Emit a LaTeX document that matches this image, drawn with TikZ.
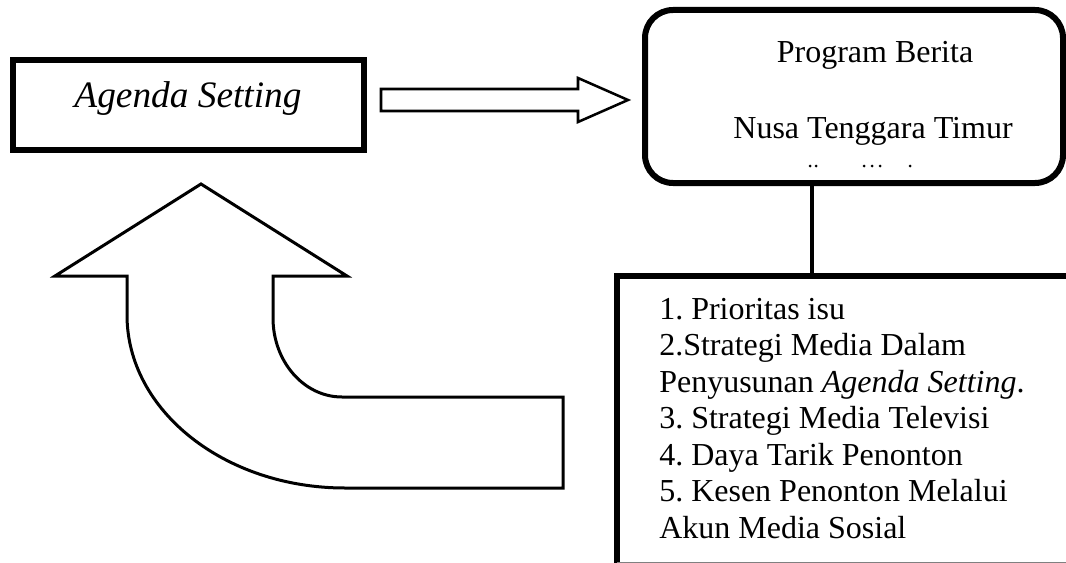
\documentclass[tikz,border=0pt]{standalone}
\usepackage{fontspec}
\setmainfont{Liberation Serif}
\frenchspacing
\begin{document}
\begin{tikzpicture}[x=0.75pt, y=-0.75pt,
    thickbox/.style={draw, line width=4.5pt, inner sep=0pt},
    blockarrow/.style={draw, line width=2.25pt, line join=miter, fill=white},
    boxtext/.style={font=\fontsize{24}{28}\selectfont, inner sep=0pt},
    listtext/.style={font=\fontsize{24}{28}\selectfont, inner sep=0pt, anchor=base west}]

  % Canvas
  \useasboundingbox (0,0) rectangle (1066,563);
  \fill[white] (0,0) rectangle (1066,563);
  \clip (0,0) rectangle (1066,563);

  % Agenda Setting box
  \node[thickbox, minimum width=263.25pt, minimum height=67.5pt] (agenda) at (188.5,105) {};
  \node[boxtext, anchor=base, font=\fontsize{28}{32}\selectfont\itshape] (agendatext) at (188,108) {Agenda Setting};

  % Rounded news program box
  \node[thickbox, rounded corners=21pt, minimum width=313.5pt, minimum height=129.75pt] (berita) at (854,96.5) {};
  \node[boxtext, anchor=base] (berita1) at (875,63) {Program Berita};
  \node[boxtext, anchor=base] (berita2) at (873,138) {Nusa Tenggara Timur};
  % Clipped third line
  \foreach \dx in {810,816,864,872,880,910}
    \fill (\dx,166) circle (1.5);

  % List box
  \node[minimum width=361.9pt, minimum height=214.9pt, inner sep=0pt] (listbox) at (858.75,419.25) {};
  \draw[line width=4.5pt] (listbox.north east) -- (listbox.north west) -- (listbox.south west);
  \draw[gray, line width=0.75pt] (listbox.south west) -- (listbox.south east);
  \foreach \txt [count=\i] in {1. Prioritas isu, 2.Strategi Media Dalam, Penyusunan \textit{Agenda Setting}., 3. Strategi Media Televisi, 4. Daya Tarik Penonton, 5. Kesen Penonton Melalui, Akun Media Sosial}
    \node[listtext] (item\i) at (659,{319+(\i-1)*36.5}) {\txt};

  % Connector
  \coordinate (joint) at (812,276);
  \draw[line width=3pt] (berita.south -| joint) -- (joint);

  % Right block arrow
  \draw[blockarrow, line width=1.9pt] (381,89) -- (578,89) -- (578,78) -- (628,100)
    -- (578,122) -- (578,111) -- (381,111) -- cycle;

  % Curved up arrow
  \draw[blockarrow] (201,184) -- (347,276) -- (273,276) -- (273,318)
    .. controls (273,361.6) and (303.9,397) .. (342,397)
    -- (563,397) -- (563,488) -- (345,488)
    .. controls (224.6,488) and (127,410.5) .. (127,315)
    -- (127,276) -- (55,276) -- cycle;

\end{tikzpicture}
\end{document}
